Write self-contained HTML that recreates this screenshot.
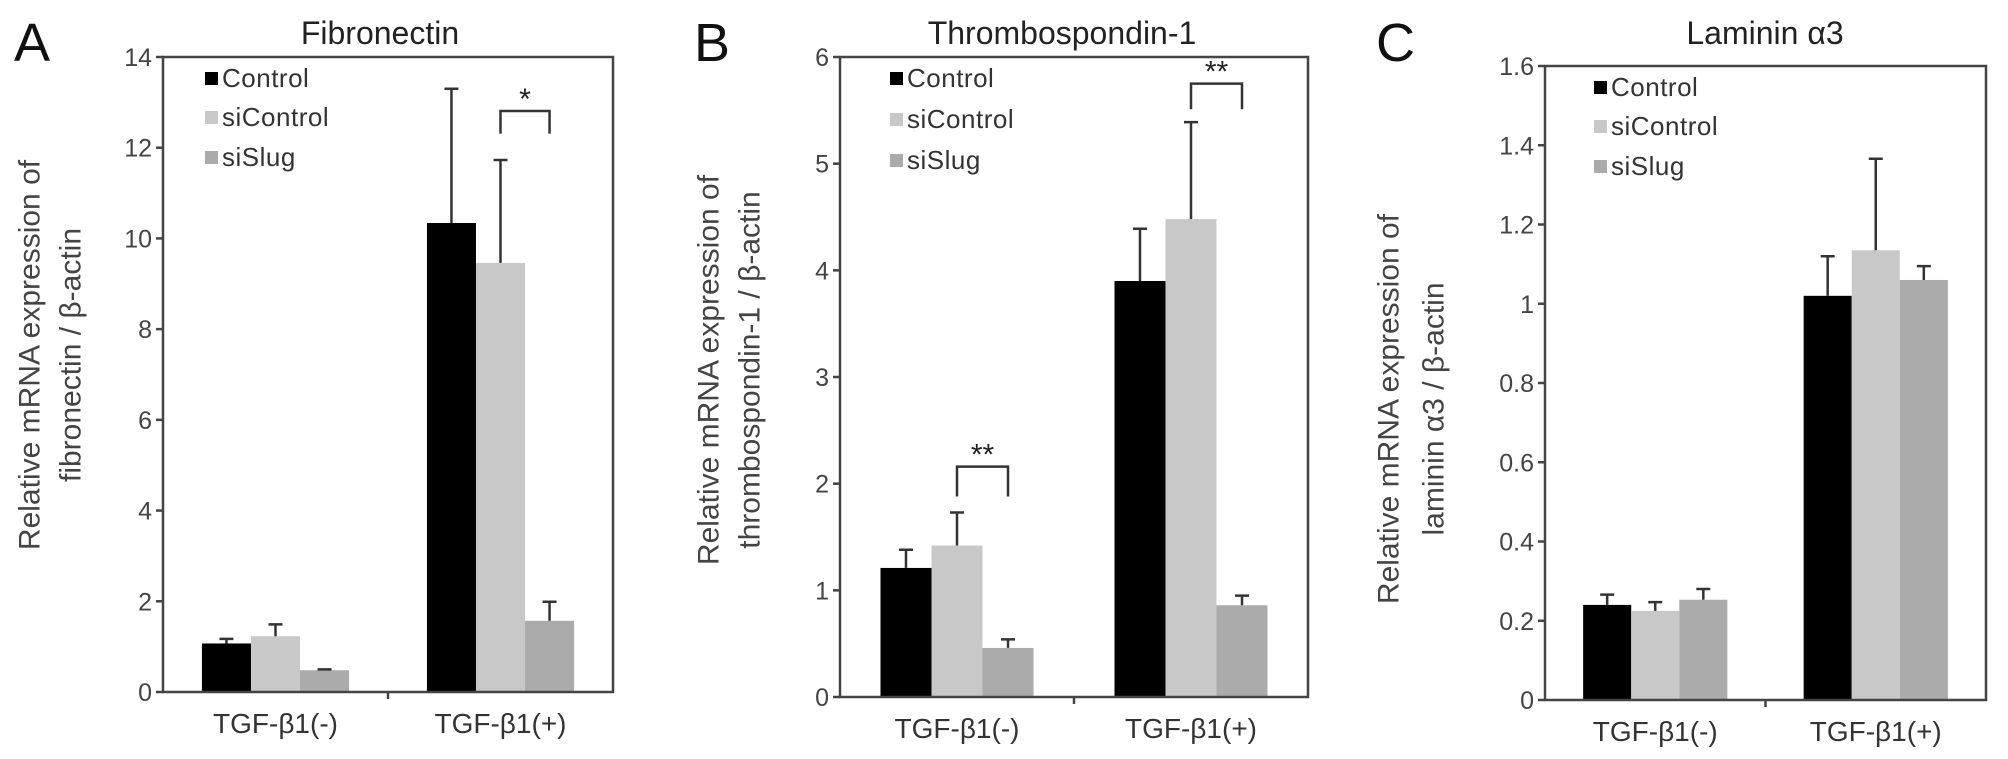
<!DOCTYPE html>
<html><head><meta charset="utf-8"><style>
html,body{margin:0;padding:0;background:#fff;}
svg{display:block;font-family:"Liberation Sans",Arial,sans-serif;}
</style></head><body>
<svg id="fig" width="2008" height="759" viewBox="0 0 2008 759" xmlns="http://www.w3.org/2000/svg"></svg>
<script>
// ---- data ----
const categories = ["TGF-β1(-)", "TGF-β1(+)"];
const seriesNames = ["Control", "siControl", "siSlug"];
const fibroValues = [[1.07, 1.23, 0.48], [10.34, 9.46, 1.57]];
const fibroErrors = [[1.17, 1.49, 0.50], [13.3, 11.73, 1.99]];
const fibroTicks = ["0","2","4","6","8","10","12","14"];
const thbsValues = [[1.21, 1.42, 0.46], [3.9, 4.48, 0.86]];
const thbsErrors = [[1.38, 1.73, 0.54], [4.39, 5.39, 0.95]];
const thbsTicks = ["0","1","2","3","4","5","6"];
const lamValues = [[0.24, 0.225, 0.253], [1.02, 1.135, 1.06]];
const lamErrors = [[0.266, 0.247, 0.28], [1.12, 1.366, 1.095]];
const lamTicks = ["0","0.2","0.4","0.6","0.8","1","1.2","1.4","1.6"];

const colors = ["#000000", "#c8c8c8", "#ababab"];
const NS = "http://www.w3.org/2000/svg";
const svg = document.getElementById('fig');
function mk(tag, attrs, parent, text){
  const e = document.createElementNS(NS, tag);
  for (const k in attrs) e.setAttribute(k, attrs[k]);
  if (text !== undefined) e.textContent = text;
  (parent || svg).appendChild(e);
  return e;
}

const panels = [
  {id:"a", letter:"A", letterX:14, title:"Fibronectin", titleX:380, left:163, right:613, top:57, bottom:692, max:14,
   ticks:fibroTicks, values:fibroValues, errors:fibroErrors,
   ylab:["Relative mRNA expression of","fibronectin / β-actin"], ylabX:[30,71], ylabY:355,
   legX:203, legY:[78,117,157],
   sig:[{g:1, y:12.81, leg:12.31, star:"*"}]},
  {id:"b", letter:"B", letterX:694, title:"Thrombospondin-1", titleX:1062, left:840, right:1308, top:57, bottom:697, max:6,
   ticks:thbsTicks, values:thbsValues, errors:thbsErrors,
   ylab:["Relative mRNA expression of","thrombospondin-1 / β-actin"], ylabX:[709,750], ylabY:370,
   legX:888, legY:[78,119,160],
   sig:[{g:0, y:2.16, leg:1.88, star:"**"},{g:1, y:5.75, leg:5.51, star:"**"}]},
  {id:"c", letter:"C", letterX:1376, title:"Laminin α3", titleX:1765, left:1545, right:1986, top:66, bottom:700, max:1.6,
   ticks:lamTicks, values:lamValues, errors:lamErrors,
   ylab:["Relative mRNA expression of","laminin α3 / β-actin"], ylabX:[1389,1434], ylabY:409,
   legX:1592, legY:[87,126,166],
   sig:[]}
];

panels.forEach(p => {
  const g = mk('g', {});
  
  
  const W = p.right - p.left;
  const y = v => p.bottom - v / p.max * (p.bottom - p.top);
  const groupCenter = i => p.left + W * (0.25 + 0.5 * i);
  const bw = W * 0.109;
  const barX = (i, s) => groupCenter(i) + (s - 1.5) * bw;

  let t = mk('text', {x:p.letterX, y:61, 'font-size':54, fill:'#111'}, g, p.letter);
  
  
  t = mk('text', {x:p.titleX, y:44, 'font-size':32, fill:'#222', 'text-anchor':'middle'}, g, p.title);
  
  

  p.values.forEach((grp, i) => {
    grp.forEach((v, s) => {
      const r = mk('rect', {x:barX(i,s), y:y(v), width:bw, height:p.bottom - y(v), fill:colors[s]}, g);
      
      
      const cx = barX(i,s) + bw/2;
      const e = mk('path', {d:`M${cx},${y(v)}V${y(p.errors[i][s])}M${cx-7},${y(p.errors[i][s])}H${cx+7}`, stroke:'#333', 'stroke-width':2.5, fill:'none'}, g);
      
      
    });
  });

  const fr = mk('rect', {x:p.left, y:p.top, width:W, height:p.bottom-p.top, fill:'none', stroke:'#444', 'stroke-width':2.5}, g);
  
  

  p.ticks.forEach(lbl => {
    const v = parseFloat(lbl);
    const ty = y(v);
    const tk = mk('line', {x1:p.left-7, x2:p.left, y1:ty, y2:ty, stroke:'#444', 'stroke-width':2.5}, g);
    
    
    const tl = mk('text', {x:p.left-11, y:ty+9, 'font-size':25, fill:'#444', 'text-anchor':'end'}, g, lbl);
    
    
  });
  const mx = p.left + W/2;
  const xt = mk('line', {x1:mx, x2:mx, y1:p.bottom, y2:p.bottom+7, stroke:'#444', 'stroke-width':2.5}, g);
  
  
  categories.forEach((c, i) => {
    const xl = mk('text', {x:groupCenter(i), y:p.bottom+41, 'font-size':28, fill:'#333', 'text-anchor':'middle'}, g, c);
    
    
  });

  p.ylab.forEach((line, k) => {
    const lx = p.ylabX[k];
    const yl = mk('text', {x:lx, y:p.ylabY, 'font-size':30, fill:'#444', 'text-anchor':'middle', 'dominant-baseline':'central', transform:`rotate(-90 ${lx} ${p.ylabY})`}, g, line);
    
    
  });

  seriesNames.forEach((n, s) => {
    const le = mk('g', {}, g);
    
    
    mk('rect', {x:p.legX+2, y:p.legY[s]-6, width:13, height:13, fill:colors[s]}, le);
    mk('text', {x:p.legX+19, y:p.legY[s]+9, 'font-size':26, fill:'#333', 'letter-spacing':'0.5'}, le, n);
  });

  p.sig.forEach(sg => {
    const x1 = barX(sg.g,1) + bw/2, x2 = barX(sg.g,2) + bw/2;
    const b = mk('path', {d:`M${x1},${y(sg.leg)}V${y(sg.y)}H${x2}V${y(sg.leg)}`, stroke:'#333', 'stroke-width':2.5, fill:'none'}, g);
    
    
    const st = mk('text', {x:(x1+x2)/2, y:y(sg.y)-2, 'font-size':30, fill:'#222', 'text-anchor':'middle'}, g, sg.star);
    
    
  });
});
</script>
</body></html>
